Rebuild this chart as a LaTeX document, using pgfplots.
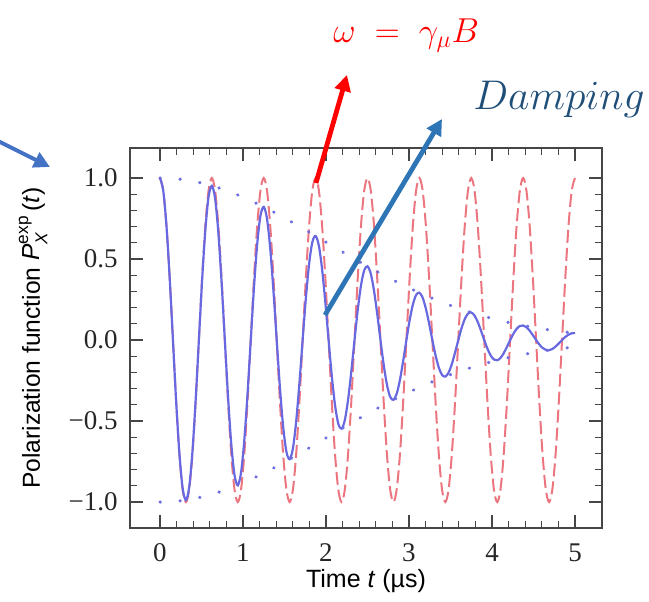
\documentclass[border=0pt]{standalone}
\usepackage{amsmath}
\usepackage{fontspec}
\setmainfont{Liberation Serif}
\setsansfont{Liberation Sans}
\usepackage{pgfplots}
\usepackage{pgfplotstable}
\pgfplotsset{compat=1.18}
\usetikzlibrary{arrows.meta}

\definecolor{curveblue}{RGB}{104,104,224}
\definecolor{dotblue}{RGB}{110,110,225}
\definecolor{dashred}{RGB}{235,118,128}
\definecolor{arrowblue}{RGB}{46,117,182}
\definecolor{leftblue}{RGB}{68,114,196}
\definecolor{dampblue}{RGB}{31,78,121}
\definecolor{axisgray}{RGB}{70,70,70}

% t, undamped precession, damped signal, envelope (+/-)
\pgfplotstableread{
t red blue env nenv
0 1 1 1 -1
0.0391 0.9239 0.9237 0.9998 -0.9998
0.0781 0.7071 0.7065 0.9992 -0.9992
0.1172 0.3827 0.3820 0.9983 -0.9983
0.1563 0 0 0.9969 -0.9969
0.1953 -0.3827 -0.3809 0.9952 -0.9952
0.2344 -0.7071 -0.7022 0.9931 -0.9931
0.2734 -0.9239 -0.9152 0.9906 -0.9906
0.3125 -1 -0.9878 0.9878 -0.9878
0.3516 -0.9239 -0.9097 0.9846 -0.9846
0.3906 -0.7071 -0.6937 0.9810 -0.9810
0.4297 -0.3827 -0.3739 0.9770 -0.9770
0.4688 0 0 0.9727 -0.9727
0.5078 0.3827 0.3705 0.9680 -0.9680
0.5469 0.7071 0.6809 0.9630 -0.9630
0.5859 0.9239 0.8848 0.9577 -0.9577
0.625 1 0.9520 0.9520 -0.9520
0.6641 0.9239 0.8740 0.9460 -0.9460
0.7031 0.7071 0.6644 0.9396 -0.9396
0.7422 0.3827 0.3570 0.9329 -0.9329
0.7813 0 0 0.9260 -0.9260
0.8203 -0.3827 -0.3516 0.9187 -0.9187
0.8594 -0.7071 -0.6442 0.9111 -0.9111
0.8984 -0.9239 -0.8346 0.9033 -0.9033
0.9375 -1 -0.8952 0.8952 -0.8952
0.9766 -0.9239 -0.8193 0.8868 -0.8868
1.0156 -0.7071 -0.6209 0.8781 -0.8781
1.0547 -0.3827 -0.3326 0.8692 -0.8692
1.0938 0 0 0.8601 -0.8601
1.1328 0.3827 0.3256 0.8507 -0.8507
1.1719 0.7071 0.5947 0.8411 -0.8411
1.2109 0.9239 0.7680 0.8313 -0.8313
1.25 1 0.8213 0.8213 -0.8213
1.2891 0.9239 0.7494 0.8111 -0.8111
1.3281 0.7071 0.5662 0.8007 -0.8007
1.3672 0.3827 0.3024 0.7902 -0.7902
1.4063 0 0 0.7794 -0.7794
1.4453 -0.3827 -0.2941 0.7686 -0.7686
1.4844 -0.7071 -0.5357 0.7576 -0.7576
1.5234 -0.9239 -0.6897 0.7465 -0.7465
1.5625 -1 -0.7352 0.7352 -0.7352
1.6016 -0.9239 -0.6688 0.7239 -0.7239
1.6406 -0.7071 -0.5037 0.7123 -0.7123
1.6797 -0.3827 -0.2682 0.7008 -0.7008
1.7188 0 0 0.6892 -0.6892
1.7578 0.3827 0.2593 0.6775 -0.6775
1.7969 0.7071 0.4708 0.6658 -0.6658
1.8359 0.9239 0.6042 0.6540 -0.6540
1.875 1 0.6421 0.6421 -0.6421
1.9141 0.9239 0.5823 0.6303 -0.6303
1.9531 0.7071 0.4373 0.6184 -0.6184
1.9922 0.3827 0.2321 0.6065 -0.6065
2.0313 0 0 0.5946 -0.5946
2.0703 -0.3827 -0.2230 0.5827 -0.5827
2.1094 -0.7071 -0.4037 0.5709 -0.5709
2.1484 -0.9239 -0.5165 0.5590 -0.5590
2.1875 -1 -0.5472 0.5472 -0.5472
2.2266 -0.9239 -0.4947 0.5355 -0.5355
2.2656 -0.7071 -0.3703 0.5237 -0.5237
2.3047 -0.3827 -0.1960 0.5121 -0.5121
2.3438 0 0 0.5005 -0.5005
2.3828 0.3827 0.1871 0.4890 -0.4890
2.4219 0.7071 0.3377 0.4776 -0.4776
2.4609 0.9239 0.4307 0.4662 -0.4662
2.5 1 0.4550 0.4550 -0.4550
2.5391 0.9239 0.4100 0.4438 -0.4438
2.5781 0.7071 0.3060 0.4328 -0.4328
2.6172 0.3827 0.1615 0.4219 -0.4219
2.6563 0 0 0.4111 -0.4111
2.6953 -0.3827 -0.1532 0.4004 -0.4004
2.7344 -0.7071 -0.2756 0.3898 -0.3898
2.7734 -0.9239 -0.3505 0.3794 -0.3794
2.8125 -1 -0.3691 0.3691 -0.3691
2.8516 -0.9239 -0.3317 0.3590 -0.3590
2.8906 -0.7071 -0.2468 0.3490 -0.3490
2.9297 -0.3827 -0.1298 0.3391 -0.3391
2.9688 0 0 0.3294 -0.3294
3.0078 0.3827 0.1224 0.3199 -0.3199
3.0469 0.7071 0.2195 0.3104 -0.3104
3.0859 0.9239 0.2783 0.3012 -0.3012
3.125 1 0.2921 0.2921 -0.2921
3.1641 0.9239 0.2616 0.2832 -0.2832
3.2031 0.7071 0.1941 0.2745 -0.2745
3.2422 0.3827 0.1018 0.2660 -0.2660
3.2813 0 0 0.2575 -0.2575
3.3203 -0.3827 -0.0954 0.2493 -0.2493
3.3594 -0.7071 -0.1706 0.2412 -0.2412
3.3984 -0.9239 -0.2155 0.2333 -0.2333
3.4375 -1 -0.2256 0.2256 -0.2256
3.4766 -0.9239 -0.2015 0.2181 -0.2181
3.5156 -0.7071 -0.1490 0.2107 -0.2107
3.5547 -0.3827 -0.0779 0.2035 -0.2035
3.5938 0 0 0.1965 -0.1965
3.6328 0.3827 0.0726 0.1896 -0.1896
3.6719 0.7071 0.1293 0.1829 -0.1829
3.7109 0.9239 0.1630 0.1764 -0.1764
3.75 1 0.1700 0.1700 -0.1700
3.7891 0.9239 0.1513 0.1638 -0.1638
3.8281 0.7071 0.1116 0.1578 -0.1578
3.8672 0.3827 0.0581 0.1519 -0.1519
3.9063 0 0 0.1462 -0.1462
3.9453 -0.3827 -0.0538 0.1407 -0.1407
3.9844 -0.7071 -0.0957 0.1353 -0.1353
4.0234 -0.9239 -0.1202 0.1301 -0.1301
4.0625 -1 -0.1250 0.1250 -0.1250
4.1016 -0.9239 -0.1110 0.1201 -0.1201
4.1406 -0.7071 -0.0815 0.1153 -0.1153
4.1797 -0.3827 -0.0424 0.1107 -0.1107
4.2188 0 0 0.1062 -0.1062
4.2578 0.3827 0.0390 0.1019 -0.1019
4.2969 0.7071 0.0690 0.0976 -0.0976
4.3359 0.9239 0.0865 0.0936 -0.0936
4.375 1 0.0896 0.0896 -0.0896
4.4141 0.9239 0.0794 0.0859 -0.0859
4.4531 0.7071 0.0581 0.0822 -0.0822
4.4922 0.3827 0.0301 0.0787 -0.0787
4.5313 0 0 0.0752 -0.0752
4.5703 -0.3827 -0.0276 0.0720 -0.0720
4.6094 -0.7071 -0.0486 0.0688 -0.0688
4.6484 -0.9239 -0.0607 0.0657 -0.0657
4.6875 -1 -0.0628 0.0628 -0.0628
4.7266 -0.9239 -0.0553 0.0599 -0.0599
4.7656 -0.7071 -0.0404 0.0572 -0.0572
4.8047 -0.3827 -0.0209 0.0545 -0.0545
4.8438 0 0 0.0520 -0.0520
4.8828 0.3827 0.0190 0.0496 -0.0496
4.9219 0.7071 0.0334 0.0473 -0.0473
4.9609 0.9239 0.0416 0.0450 -0.0450
5.0 1 0.0429 0.0429 -0.0429
}\muondata

\begin{document}
\begin{tikzpicture}
\begin{axis}[
    at={(0,0)}, anchor=south west,
    scale only axis,
    width=236pt, height=190pt,
    xmin=-0.361, xmax=5.325,
    ymin=-1.160, ymax=1.185,
    xtick={0,1,2,3,4,5},
    ytick={-1,-0.5,0,0.5,1},
    yticklabels={−1.0,−0.5,0.0,0.5,1.0},
    minor x tick num=4, minor y tick num=4,
    tick align=inside, xtick pos=both, ytick pos=both,
    major tick length=6.5pt, minor tick length=3.5pt,
    axis line style={axisgray, line width=0.65pt},
    every tick/.style={axisgray, line width=0.6pt},
    /pgf/number format/assume math mode=true,
    ticklabel style={font=\fontsize{13.5}{14}\selectfont, text=black!85},
    xticklabel style={anchor=north, inner sep=0pt, yshift=-7.5pt},
    yticklabel style={anchor=east, inner sep=0pt, xshift=-6pt},
    xlabel={Time \textit{t} (µs)},
    ylabel={Polarization function \textit{P}$_{\text{\itshape X}}^{\text{exp}}$\,(\textit{t})},
    xlabel style={font=\sffamily\fontsize{12.5}{14}\selectfont, at={(axis description cs:0.5,-0.139)}, anchor=center},
    ylabel style={font=\sffamily\fontsize{12.3}{14}\selectfont, at={(axis description cs:-0.2055,0.5)}, anchor=center},
]
\addplot[dashred, line width=1pt, dash pattern=on 6.5pt off 2.5pt, smooth] table[x=t, y=red] {\muondata};
\addplot[curveblue, line width=1.1pt, smooth] table[x=t, y=blue] {\muondata};
\addplot[dotblue, line width=1.6pt, line cap=round, dash pattern=on 0.2pt off 9.8pt, smooth] table[x=t, y=env] {\muondata};
\addplot[dotblue, line width=1.6pt, line cap=round, dash pattern=on 0.2pt off 9.8pt, smooth] table[x=t, y=nenv] {\muondata};
\end{axis}

% annotations
\draw[red, line width=2.4pt, -{Triangle[length=8pt, width=8pt]}] (93pt,172.5pt) -- (108.5pt,226.5pt);
\draw[arrowblue, line width=2.4pt, -{Triangle[length=8pt, width=8pt]}] (97.5pt,106.5pt) -- (156pt,204.5pt);
\draw[leftblue, line width=2pt, -{Triangle[length=8pt, width=8pt]}] (-70pt,195.5pt) -- (-40pt,180.5pt);
\node[anchor=base west, inner sep=0pt, text=red, font=\fontsize{17}{19}\selectfont] at (101.5pt,243pt) {$\omega\;=\;\gamma_{\mu}B$};
\node[anchor=base west, inner sep=0pt, text=dampblue, font=\fontsize{20}{22}\selectfont] at (171.5pt,209.5pt) {$Damping$};

\pgfresetboundingbox
\path[use as bounding box] (-65pt,-36.5pt) rectangle (259.5pt,264pt);
\end{tikzpicture}
\end{document}
